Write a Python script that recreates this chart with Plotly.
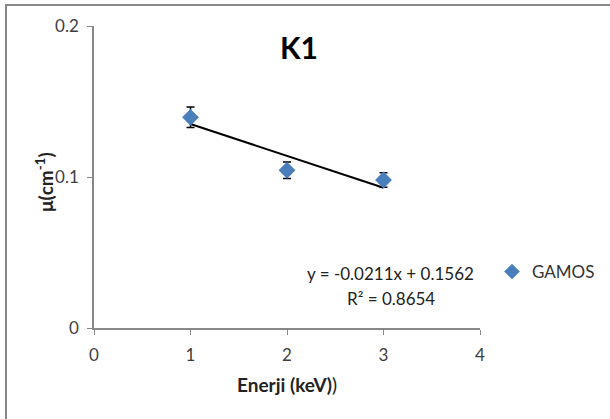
import plotly.graph_objects as go

energy = [1, 2, 3]
mu = [0.1395, 0.1045, 0.0980]
mu_err = [0.0068, 0.0055, 0.0048]
slope = -0.0211
intercept = 0.1562
r2 = 0.8654

L, R, T, B = 94, 480, 26, 328
W, H = 610, 419
pw, ph = R - L, B - T

def px(x):
    return (x - L) / pw

def py(y):
    return (B - y) / ph

fit_x = [energy[0], energy[-1]]
fit_y = [slope * x + intercept for x in fit_x]

font = "Lato, Open Sans, sans-serif"
fig = go.Figure()
fig.add_trace(go.Scatter(
    x=fit_x, y=fit_y, mode="lines",
    line=dict(color="black", width=2), showlegend=False, hoverinfo="skip"))
fig.add_trace(go.Scatter(
    x=energy, y=mu, mode="markers", name="GAMOS",
    marker=dict(symbol="diamond", size=13, color="#4a7ebb"),
    error_y=dict(type="data", array=mu_err, color="black", thickness=1.5, width=4)))

def ann(text, x, y, size, color="#222", angle=0):
    return dict(text=text, x=px(x), y=py(y), xref="paper", yref="paper",
                xanchor="center", yanchor="middle", showarrow=False, textangle=angle,
                font=dict(size=size, color=color, family=font))

fig.update_layout(
    width=W, height=H,
    margin=dict(l=L, r=W - R, t=T, b=H - B, autoexpand=False),
    paper_bgcolor="white", plot_bgcolor="white",
    font=dict(family=font, size=17, color="#404040"),
    showlegend=True,
    legend=dict(x=px(492), y=py(272), xanchor="left", yanchor="middle",
                font=dict(size=17, color="#333"), bgcolor="rgba(0,0,0,0)",
                itemsizing="constant", itemwidth=30),
    xaxis=dict(range=[0, 4], tickvals=[0, 1, 2, 3, 4], showgrid=False,
               zeroline=False, showline=True, linecolor="#888", linewidth=1.5,
               ticks="outside", ticklen=5, tickcolor="#888", ticklabelstandoff=6,
               automargin=False,
               tickfont=dict(size=17, color="#404040")),
    yaxis=dict(range=[0, 0.2], tickvals=[0, 0.1, 0.2], ticktext=["0", "0.1", "0.2"],
               showgrid=False, zeroline=False, showline=True, linecolor="#888",
               linewidth=1.5, ticks="outside", ticklen=5, tickcolor="#888",
               ticklabelstandoff=5, automargin=False,
               tickfont=dict(size=17, color="#404040")),
    shapes=[dict(type="rect", xref="paper", yref="paper",
                 x0=px(6), x1=px(660), y0=py(470), y1=py(5),
                 line=dict(color="#888", width=2))],
    annotations=[
        ann("<b>K1</b>", 299, 47, 30, "black"),
        ann("<b>Enerji (keV)</b>)", 287, 384, 19),
        ann("<b>μ(cm<sup>-1</sup>)</b>", 44, 182, 19, angle=-90),
        ann(f"y = {slope}x + {intercept}", 390, 273, 17),
        ann(f"R² = {r2}", 391, 298, 17),
    ],
)

fig.write_html("out.html")
